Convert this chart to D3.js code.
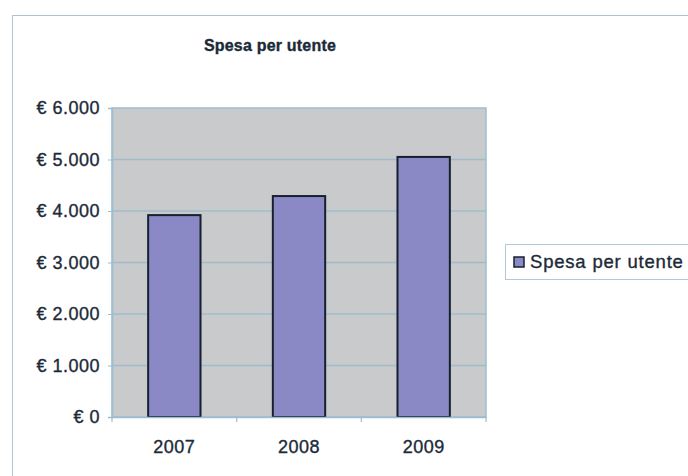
<!DOCTYPE html>
<html><head><meta charset="utf-8">
<script src="https://cdn.jsdelivr.net/npm/d3@7"></script>
<style>body{margin:0;background:#fff}svg{display:block}</style>
</head><body>
<svg id="c" width="688" height="476"></svg>
<script>
const categories = ["2007", "2008", "2009"];
const values = [3920, 4290, 5050];
const yTicks = [0, 1000, 2000, 3000, 4000, 5000, 6000];
const seriesName = "Spesa per utente";
const title = "Spesa per utente";

const svg = d3.select("#c");
const font = "'Liberation Sans', Arial, sans-serif";
const textCol = "#1c2a38";

// outer chart border
svg.append("rect").attr("x", 12.5).attr("y", 15.5).attr("width", 690).attr("height", 480)
  .attr("fill", "#fff").attr("stroke", "#a9c6d8").attr("stroke-width", 1);

const L = 112, R = 486, T = 108, B = 417;
const x = d3.scaleBand().domain(categories).range([L, R]).paddingInner(0.58).paddingOuter(0.29);
const y = d3.scaleLinear().domain([0, 6000]).range([B, T]);

svg.append("rect").attr("x", L).attr("y", T).attr("width", R - L).attr("height", B - T)
  .attr("fill", "#c9cacc").attr("stroke", "#9dbdd0").attr("stroke-width", 1.5);

svg.append("g").selectAll("line").data(yTicks.slice(1, -1)).join("line")
  .attr("x1", L).attr("x2", R).attr("y1", d => y(d)).attr("y2", d => y(d))
  .attr("stroke", "#9fbccc").attr("stroke-width", 1.3);

svg.append("g").selectAll("rect").data(values).join("rect")
  .attr("x", (d, i) => x(categories[i])).attr("width", x.bandwidth())
  .attr("y", d => y(d)).attr("height", d => B - y(d))
  .attr("fill", "#8a89c6").attr("stroke", "#16202e").attr("stroke-width", 2);

const styleText = sel => sel.attr("font-family", font).attr("fill", textCol)
  .attr("stroke", textCol).attr("stroke-width", 0.35);

const fmt = v => "€ " + d3.format(",")(v).replace(/,/g, ".");
const yAxis = d3.axisLeft(y).tickValues(yTicks).tickFormat(fmt).tickSize(4).tickPadding(8);
const gy = svg.append("g").attr("transform", `translate(${L},0)`).call(yAxis);
gy.select(".domain").attr("stroke", "#9dbdd0").attr("stroke-width", 1.5);
gy.selectAll(".tick line").attr("stroke", "#9dbdd0");
gy.selectAll("text").call(styleText).attr("font-size", 18).attr("letter-spacing", 0.5);

// x axis
const xAxis = d3.axisBottom(x).tickSize(0).tickPadding(23);
const gx = svg.append("g").attr("transform", `translate(0,${B})`).call(xAxis);
gx.select(".domain").attr("stroke", "#9dbdd0").attr("stroke-width", 1.5);
gx.selectAll("text").call(styleText).attr("font-size", 18).attr("letter-spacing", 0.5);
// category boundary ticks
const bounds = d3.range(categories.length + 1).map(i => L + i * (R - L) / categories.length);
svg.append("g").selectAll("line").data(bounds).join("line")
  .attr("x1", d => d).attr("x2", d => d).attr("y1", B).attr("y2", B + 5)
  .attr("stroke", "#9dbdd0").attr("stroke-width", 1.2);

svg.append("text").attr("x", 270).attr("y", 51).attr("text-anchor", "middle")
  .call(styleText).attr("font-weight", "bold").attr("font-size", 16)
  .attr("letter-spacing", 0.2).text(title);

// legend
const lg = svg.append("g");
lg.append("rect").attr("x", 505.5).attr("y", 244.5).attr("width", 200).attr("height", 35)
  .attr("fill", "#fff").attr("stroke", "#b0cadb");
lg.append("rect").attr("x", 514).attr("y", 257).attr("width", 10).attr("height", 10)
  .attr("fill", "#8a89c6").attr("stroke", "#16202e").attr("stroke-width", 1.5);
lg.append("text").attr("x", 530).attr("y", 268).call(styleText).attr("font-size", 18.5)
  .attr("letter-spacing", 0.8).text(seriesName);
</script>
</body></html>
